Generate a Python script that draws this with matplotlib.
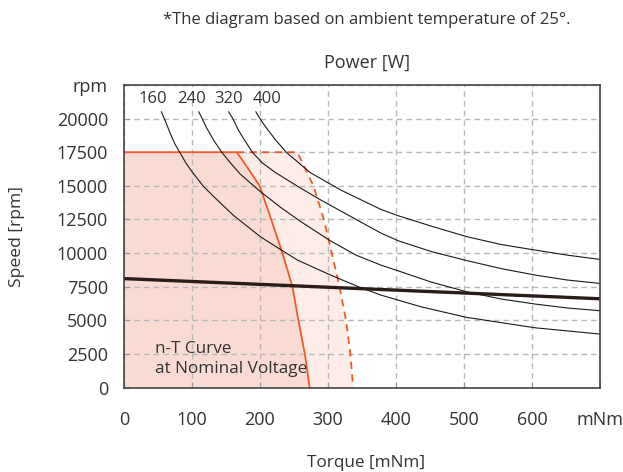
import matplotlib
matplotlib.use("Agg")
import matplotlib.pyplot as plt

plt.rcParams['font.family'] = ['Open Sans', 'DejaVu Sans']

# power curves (torque mNm, speed rpm)
p160_T = [55, 61, 68, 75, 82, 91, 100, 117, 134, 161, 201, 230, 255, 304, 346, 378, 437, 504, 604, 700]
p160_n = [20500, 19800, 18900, 18100, 17500, 16700, 16050, 14950, 14100, 12800, 11200, 10270, 9480, 8360,
          7470, 6870, 6000, 5215, 4445, 3975]
p240_T = [110, 115, 121, 132, 144, 157, 171, 198, 230, 260, 302, 341, 378, 403, 452, 504, 555, 605, 651, 700]
p240_n = [20500, 20000, 19360, 18380, 17480, 16680, 15870, 14680, 13410, 12340, 10960, 9850, 9100, 8680,
          7840, 7120, 6580, 6205, 5920, 5710]
p320_T = [154, 160, 168, 176, 189, 204, 223, 258, 290, 319, 378, 403, 452, 504, 555, 605, 651, 700]
p320_n = [20500, 20000, 19170, 18500, 17480, 16680, 15980, 14880, 13930, 13120, 11480, 10920, 10110, 9440,
          8840, 8360, 8000, 7740]
p400_T = [194, 200, 208, 223, 239, 274, 309, 319, 378, 403, 452, 504, 555, 605, 651, 700]
p400_n = [20500, 20000, 19400, 18410, 17480, 15980, 14970, 14680, 13240, 12780, 12000, 11220, 10630, 10220,
          9850, 9525]
power_labels = ["160", "240", "320", "400"]
power_label_T = [43, 100, 154, 211]

# n-T curve at nominal voltage
nominal_T = [0, 700]
nominal_n = [8100, 6600]

# operating limits (continuous: solid, short-term: dashed)
cont_T = [0, 166, 183, 199.5, 216.5, 233, 247.7, 256.5, 266, 273]
cont_n = [17500, 17500, 16250, 15000, 12500, 10000, 7500, 5000, 2500, 0]
short_T = [166, 255, 278.6, 294, 305.6, 317, 326.5, 333, 337]
short_n = [17500, 17500, 15000, 12500, 10000, 7500, 5000, 2500, 0]

x_ticks = [0, 100, 200, 300, 400, 500, 600, 700]
x_labels = ["0", "100", "200", "300", "400", "500", "600", "mNm"]
y_ticks = [0, 2500, 5000, 7500, 10000, 12500, 15000, 17500, 20000, 22500]
y_labels = ["0", "2500", "5000", "7500", "10000", "12500", "15000", "17500", "20000", "rpm"]

orange = "#f15a29"
text_col = "#333333"

fig = plt.figure(figsize=(6.23, 4.72), dpi=100)
ax = fig.add_axes([0.199, 0.179, 0.764, 0.641])

ax.fill([0, 0] + short_T, [0, 17500] + short_n, color="#fdece7", lw=0, zorder=1)
ax.fill(cont_T + [0], cont_n + [0], color="#f9dbd3", lw=0, zorder=1.5)

ax.grid(True, color="#b8b8b8", linestyle=(0, (4, 3)), linewidth=1.0, zorder=2)
ax.set_axisbelow(False)

ax.plot(cont_T, cont_n, color=orange, lw=1.3, zorder=4)
ax.plot(short_T, short_n, color=orange, lw=1.3, linestyle=(0, (4, 3)), zorder=4)

for T, n in [(p160_T, p160_n), (p240_T, p240_n), (p320_T, p320_n), (p400_T, p400_n)]:
    ax.plot(T, n, color="#1a1a1a", lw=0.8, zorder=5)

ax.plot(nominal_T, nominal_n, color="#2a1c19", lw=2.4, zorder=6, solid_capstyle="butt")

for lab, t in zip(power_labels, power_label_T):
    ax.text(t, 21450, lab, ha="center", va="center", fontsize=12, color=text_col, zorder=7)

ax.text(46, 2850, "n-T Curve", ha="left", va="center", fontsize=12.3, color=text_col, zorder=7)
ax.text(46, 1350, "at Nominal Voltage", ha="left", va="center", fontsize=12.3, color=text_col, zorder=7)

ax.set_xlim(0, 700)
ax.set_ylim(0, 22500)
ax.set_xticks(x_ticks)
ax.set_xticklabels(x_labels)
ax.set_yticks(y_ticks)
ax.set_yticklabels(y_labels)
ax.tick_params(direction="in", length=4, color="#999999", labelsize=13, labelcolor=text_col)
ax.tick_params(axis="x", pad=17)
ax.tick_params(axis="y", pad=11.5)
for s in ax.spines.values():
    s.set_color("#444444")
    s.set_linewidth(1.2)
    s.set_zorder(8)

fig.text(0.589, 0.957, "*The diagram based on ambient temperature of 25°.", ha="center", va="center",
         fontsize=12, color=text_col)
fig.text(0.589, 0.866, "Power [W]", ha="center", va="center", fontsize=13, color=text_col)
fig.text(0.588, 0.019, "Torque [mNm]", ha="center", va="center", fontsize=12.3, color=text_col)
fig.text(0.027, 0.498, "Speed [rpm]", ha="center", va="center", rotation=90, fontsize=12.6, color=text_col)

fig.savefig("out.png", dpi=100)
